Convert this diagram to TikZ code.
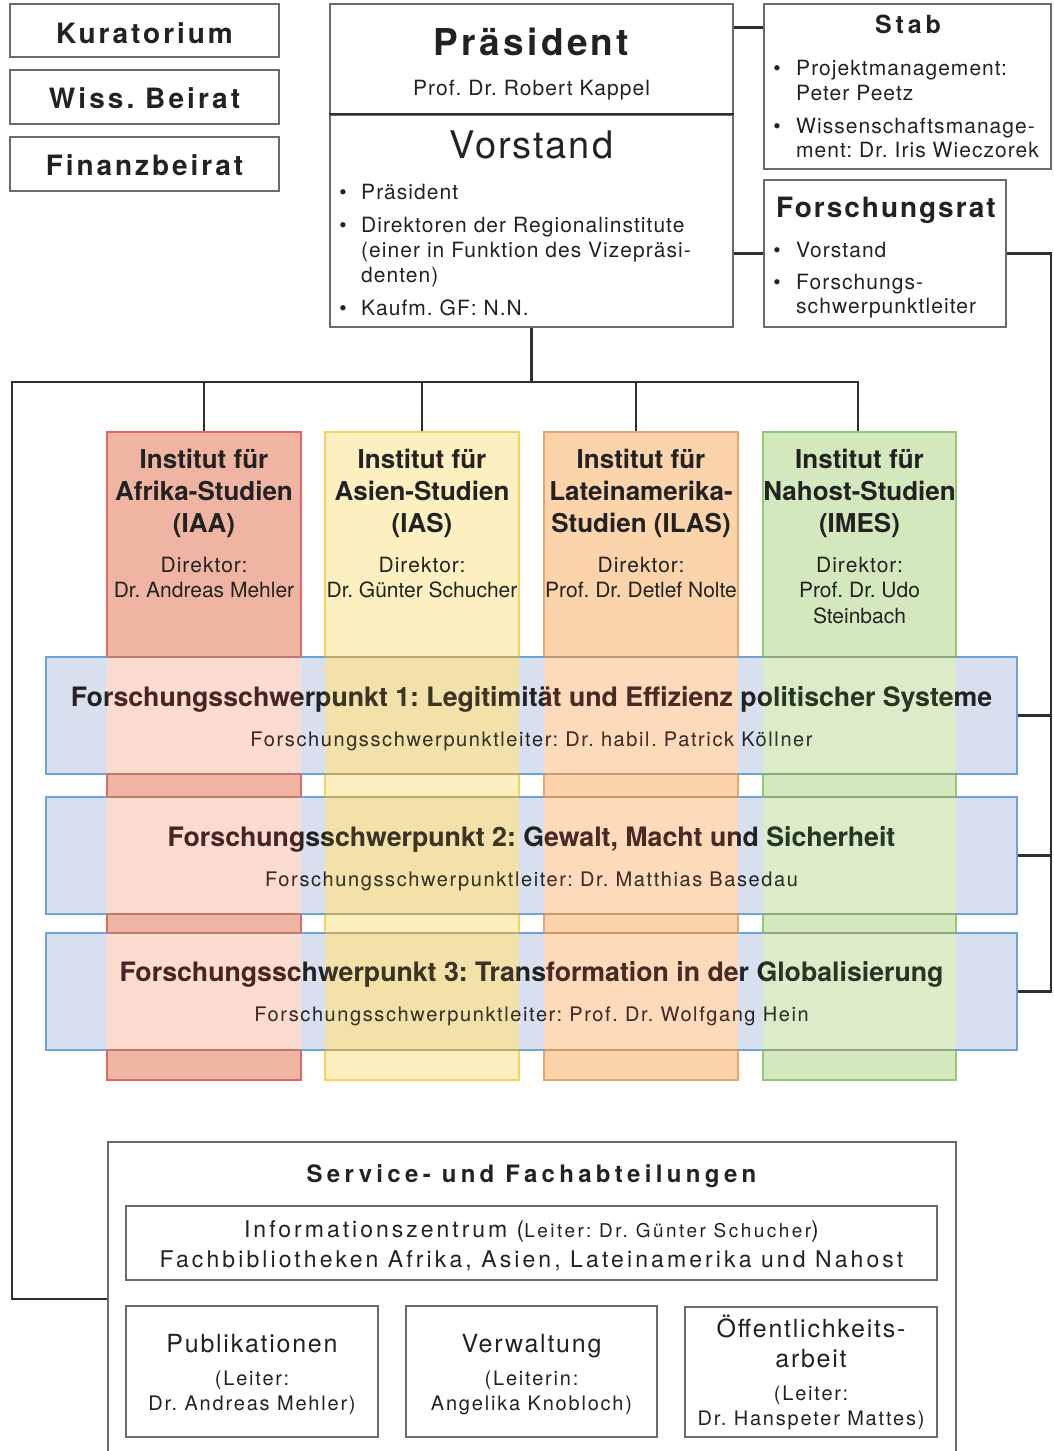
\documentclass[tikz,border=0pt]{standalone}
\usepackage{fontspec}
\setmainfont{TeX Gyre Heros}
\usetikzlibrary{fit}
\definecolor{linedark}{HTML}{2E2E2E}
\definecolor{boxgray}{HTML}{6A6A6A}
\definecolor{txt}{HTML}{222222}
\definecolor{bandfill}{HTML}{D8E0F0}
\definecolor{bandline}{HTML}{6FA3D6}
\definecolor{afcol}{HTML}{F0B4A3}\definecolor{afline}{HTML}{DC6A64}\definecolor{afov}{HTML}{FCDCD0}\definecolor{afedge}{HTML}{C07868}\definecolor{aftint}{HTML}{4E1612}
\definecolor{ascol}{HTML}{FDF0C0}\definecolor{asline}{HTML}{F2D35C}\definecolor{asov}{HTML}{F2E2AA}\definecolor{asedge}{HTML}{B8A870}\definecolor{astint}{HTML}{3E3410}
\definecolor{lacol}{HTML}{FCD4AC}\definecolor{laline}{HTML}{EFA368}\definecolor{laov}{HTML}{FDDAB9}\definecolor{laedge}{HTML}{C89870}\definecolor{latint}{HTML}{4A2A10}
\definecolor{nacol}{HTML}{D4E8BE}\definecolor{naline}{HTML}{8FCB74}\definecolor{naov}{HTML}{DCECC8}\definecolor{naedge}{HTML}{90A880}\definecolor{natint}{HTML}{1C3A14}
\tikzset{
  box/.style={draw=boxgray, line width=1.4pt, inner sep=0pt},
  conn/.style={draw=linedark, line width=2.5pt},
  tx/.style={anchor=base, inner sep=0pt, text=txt},
  txw/.style={anchor=base west, inner sep=0pt, text=txt},
  rg/.style 2 args={font=\fontsize{#1}{#1}\selectfont\frenchspacing\addfontfeature{LetterSpace=#2}},
  bd/.style 2 args={font=\fontsize{#1}{#1}\selectfont\bfseries\frenchspacing\addfontfeature{LetterSpace=#2}},
  colbox/.style={line width=1.4pt, inner sep=0pt},
  bandbox/.style={draw=bandline, fill=bandfill, line width=1.4pt, inner sep=0pt},
}
\begin{document}
\frenchspacing
\begin{tikzpicture}[x=1pt,y=-1pt]
\useasboundingbox (0,0) rectangle (1053,1451);
\clip (0,0) rectangle (1053,1451);
\fill[white] (0,0) rectangle (1053,1451);

% ---------- top boxes
\node[box, fit={(10,4) (279,57)}] (kur) {};
\node[box, fit={(10,70) (279,124)}] (wiss) {};
\node[box, fit={(10,137) (279,191)}] (fin) {};
\node[tx, bd={28}{10.5}] (kurt) at (kur.center |- 0,43) {Kuratorium};
\node[tx, bd={28}{11}] (wisst) at (wiss.center |- 0,108) {Wiss. Beirat};
\node[tx, bd={28}{10.5}] (fint) at (fin.center |- 0,175) {Finanzbeirat};

\node[box, fit={(330,4) (733,115)}] (praes) {};
\node[box, fit={(330,115) (733,327)}] (vor) {};
\draw[linedark, line width=2pt] (vor.north west) -- (vor.north east);
\node[box, fit={(764,4) (1051,169)}] (stab) {};
\node[box, fit={(764,180) (1006,327)}] (frat) {};

\node[tx, bd={37}{9}] (praest) at (531.5,55) {Präsident};
\node[tx, rg={21}{5}] (praesn) at (531.5,95) {Prof. Dr. Robert Kappel};
\node[tx, rg={38}{5}] (vort) at (531.5,158) {Vorstand};
\node[tx, rg={21}{0}] (vb1) at (343,199) {•};
\node[tx, rg={21}{0}] (vb2) at (343,232) {•};
\node[tx, rg={21}{0}] (vb3) at (343,315) {•};
\node[txw, rg={21}{5}] (vl1) at (361,199) {Präsident};
\node[txw, rg={21}{5}] (vl2) at (361,232) {Direktoren der Regionalinstitute};
\node[txw, rg={21}{5}] (vl3) at (361,257) {(einer in Funktion des Vizepräsi-};
\node[txw, rg={21}{5}] (vl4) at (361,282) {denten)};
\node[txw, rg={21}{5}] (vl5) at (361,315) {Kaufm. GF: N.N.};

\node[tx, bd={25}{15}] (stabt) at (908,33) {Stab};
\node[tx, rg={21}{0}] (sb1) at (777,75) {•};
\node[tx, rg={21}{0}] (sb2) at (777,133) {•};
\node[txw, rg={21}{5}] (sl1) at (796,75) {Projektmanagement:};
\node[txw, rg={21}{5}] (sl2) at (796,100) {Peter Peetz};
\node[txw, rg={21}{5}] (sl3) at (796,133) {Wissenschaftsmanage-};
\node[txw, rg={21}{5}] (sl4) at (796,157) {ment: Dr. Iris Wieczorek};

\node[txw, bd={28}{7}] (fratt) at (776,217) {Forschungsrat};
\node[tx, rg={21}{0}] (fb1) at (777,257) {•};
\node[tx, rg={21}{0}] (fb2) at (777,289) {•};
\node[txw, rg={21}{5}] (fl1) at (796,257) {Vorstand};
\node[txw, rg={21}{5}] (fl2) at (796,289) {Forschungs-};
\node[txw, rg={21}{5}] (fl3) at (796,313) {schwerpunktleiter};

% ---------- columns and bands
\node[colbox, draw=afline, fill=afcol, fit={(107,432) (301,1080)}] (iaa) {};
\node[colbox, draw=asline, fill=ascol, fit={(325,432) (519,1080)}] (ias) {};
\node[colbox, draw=laline, fill=lacol, fit={(544,432) (738,1080)}] (ilas) {};
\node[colbox, draw=naline, fill=nacol, fit={(763,432) (956,1080)}] (imes) {};

\node[bandbox, fit={(46,657) (1017,774)}] (band1) {};
\node[bandbox, fit={(46,797) (1017,914)}] (band2) {};
\node[bandbox, fit={(46,933) (1017,1050)}] (band3) {};

\foreach \t/\b in {657/774, 797/914, 933/1050} {
  \fill[afov] (107,\t) rectangle (301,\b);
  \fill[asov] (325,\t) rectangle (519,\b);
  \fill[laov] (544,\t) rectangle (738,\b);
  \fill[naov] (763,\t) rectangle (956,\b);
  \draw[afedge, line width=1.4pt] (107,\t) -- (301,\t) (107,\b) -- (301,\b);
  \draw[asedge, line width=1.4pt] (325,\t) -- (519,\t) (325,\b) -- (519,\b);
  \draw[laedge, line width=1.4pt] (544,\t) -- (738,\t) (544,\b) -- (738,\b);
  \draw[naedge, line width=1.4pt] (763,\t) -- (956,\t) (763,\b) -- (956,\b);
}

% ---------- connectors
\coordinate (bus) at (531.5,382);
\coordinate (lx) at (12,382);
\coordinate (rx) at (1051,255);
\coordinate (svcin) at (108,1299);
\draw[conn] (vor.south) -- (bus);
\draw[conn] (svcin) -| (lx) -- ([xshift=-1.5pt]imes.north |- bus) -- ([xshift=-1.5pt]imes.north);
\draw[conn] (iaa.north |- bus) -- (iaa.north);
\draw[conn] (ias.north |- bus) -- (ias.north);
\draw[conn] ([xshift=-5pt]ilas.north |- bus) -- ([xshift=-5pt]ilas.north);
\draw[conn] ([yshift=-24pt]praes.north east) -- ([yshift=-24pt]stab.north west);
\draw[conn] (frat.west -| vor.east) -- (frat.west);
\draw[conn] (frat.east) -| (rx |- band3.east) -- (band3.east);
\draw[conn] (band1.east) -- (band1.east -| rx);
\draw[conn] (band2.east) -- (band2.east -| rx);

% ---------- column texts
\node[tx, bd={26}{0}] (c1a) at (iaa.center |- 0,468) {Institut für};
\node[tx, bd={26}{0}] (c1b) at (iaa.center |- 0,500) {Afrika-Studien};
\node[tx, bd={26}{0}] (c1c) at (iaa.center |- 0,532) {(IAA)};
\node[tx, rg={21}{5}] (c1d) at (iaa.center |- 0,572) {Direktor:};
\node[tx, rg={21}{0}] (c1e) at (iaa.center |- 0,597) {Dr. Andreas Mehler};

\node[tx, bd={26}{0}] (c2a) at (ias.center |- 0,468) {Institut für};
\node[tx, bd={26}{0}] (c2b) at (ias.center |- 0,500) {Asien-Studien};
\node[tx, bd={26}{0}] (c2c) at (ias.center |- 0,532) {(IAS)};
\node[tx, rg={21}{5}] (c2d) at (ias.center |- 0,572) {Direktor:};
\node[tx, rg={21}{0}] (c2e) at (ias.center |- 0,597) {Dr. Günter Schucher};

\node[tx, bd={26}{0}] (c3a) at (ilas.center |- 0,468) {Institut für};
\node[tx, bd={26}{0}] (c3b) at (ilas.center |- 0,500) {Lateinamerika-};
\node[tx, bd={26}{0}] (c3c) at (ilas.center |- 0,532) {Studien (ILAS)};
\node[tx, rg={21}{5}] (c3d) at (ilas.center |- 0,572) {Direktor:};
\node[tx, rg={21}{0}] (c3e) at (ilas.center |- 0,597) {Prof. Dr. Detlef Nolte};

\node[tx, bd={26}{0}] (c4a) at (imes.center |- 0,468) {Institut für};
\node[tx, bd={26}{0}] (c4b) at (imes.center |- 0,500) {Nahost-Studien};
\node[tx, bd={26}{0}] (c4c) at (imes.center |- 0,532) {(IMES)};
\node[tx, rg={21}{5}] (c4d) at (imes.center |- 0,572) {Direktor:};
\node[tx, rg={21}{0}] (c4e) at (imes.center |- 0,597) {Prof. Dr. Udo};
\node[tx, rg={21}{0}] (c4f) at (imes.center |- 0,623) {Steinbach};

% ---------- band texts
\node[tx, bd={26.7}{0}] (b1t) at (531.5,706) {Forschungsschwerpunkt 1: Legitimität und Effizienz politischer Systeme};
\node[tx, rg={20}{8}] (b1s) at (531.5,746) {Forschungsschwerpunktleiter: Dr. habil. Patrick Köllner};
\node[tx, bd={26.7}{0}] (b2t) at (531.5,846) {Forschungsschwerpunkt 2: Gewalt, Macht und Sicherheit};
\node[tx, rg={20}{8}] (b2s) at (531.5,886) {Forschungsschwerpunktleiter: Dr. Matthias Basedau};
\node[tx, bd={26.7}{0}] (b3t) at (531.5,981) {Forschungsschwerpunkt 3: Transformation in der Globalisierung};
\node[tx, rg={20}{8}] (b3s) at (531.5,1021) {Forschungsschwerpunktleiter: Prof. Dr. Wolfgang Hein};

\begin{scope}[blend mode=lighten]
\foreach \t/\b in {657/774, 797/914, 933/1050} {
  \fill[aftint] (107,\t) rectangle (301,\b);
  \fill[astint] (325,\t) rectangle (519,\b);
  \fill[latint] (544,\t) rectangle (738,\b);
  \fill[natint] (763,\t) rectangle (956,\b);
}
\end{scope}

% ---------- service section
\node[box, fit={(108,1142) (956,1480)}] (svc) {};
\node[tx, bd={24}{18}] (svct) at (531.5,1182) {Service- und Fachabteilungen};
\node[box, fit={(126,1206) (937,1280)}] (info) {};
\node[tx, rg={23}{13}] (info1) at (info.center |- 0,1237) {Informationszentrum (\fontsize{19}{19}\selectfont Leiter: Dr. Günter Schucher\fontsize{23}{23}\selectfont)};
\node[tx, rg={23}{13.5}] (info2) at (info.center |- 0,1267) {Fachbibliotheken Afrika, Asien, Lateinamerika und Nahost};

\node[box, fit={(126,1306) (378,1437)}] (pub) {};
\node[box, fit={(406,1306) (657,1437)}] (verw) {};
\node[box, fit={(685,1307) (937,1437)}] (oeff) {};
\node[tx, rg={25}{7}] (pub1) at (pub.center |- 0,1352) {Publikationen};
\node[tx, rg={20}{9}] (pub2) at (pub.center |- 0,1385) {(Leiter:};
\node[tx, rg={20}{9}] (pub3) at (pub.center |- 0,1410) {Dr. Andreas Mehler)};
\node[tx, rg={25}{7}] (verw1) at (verw.center |- 0,1352) {Verwaltung};
\node[tx, rg={20}{9}] (verw2) at (verw.center |- 0,1385) {(Leiterin:};
\node[tx, rg={20}{9}] (verw3) at (verw.center |- 0,1410) {Angelika Knobloch)};
\node[tx, rg={25}{7}] (oeff1) at (oeff.center |- 0,1337) {Öffentlichkeits-};
\node[tx, rg={25}{7}] (oeff2) at (oeff.center |- 0,1367) {arbeit};
\node[tx, rg={20}{9}] (oeff3) at (oeff.center |- 0,1400) {(Leiter:};
\node[tx, rg={20}{9}] (oeff4) at (oeff.center |- 0,1425) {Dr. Hanspeter Mattes)};
\end{tikzpicture}
\end{document}
